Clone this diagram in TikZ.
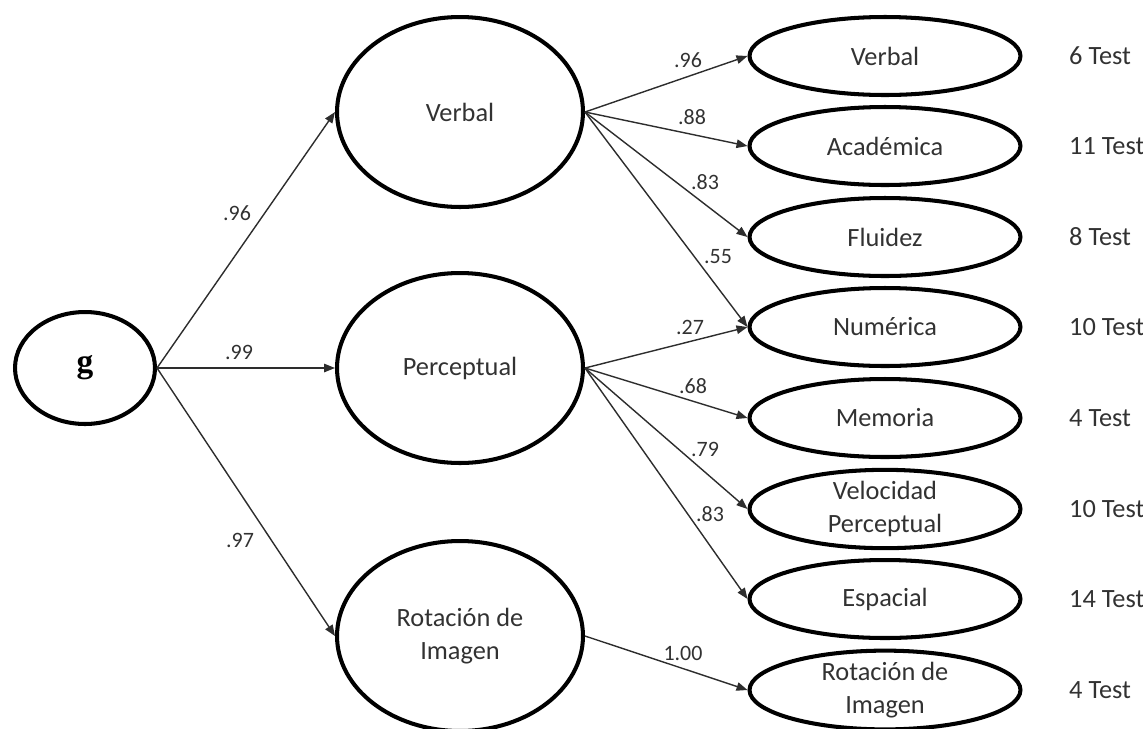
\documentclass[tikz,border=0pt]{standalone}
\usepackage{fontspec}
\setmainfont{Carlito}
\newfontfamily\gfont{Liberation Serif}
\usetikzlibrary{arrows.meta,shapes.geometric}
\definecolor{textgray}{RGB}{50,50,50}
\definecolor{linegray}{RGB}{45,45,45}
\tikzset{
  load/.style={-{Triangle[length=2.2mm,width=1.7mm]}, line width=0.8pt, draw=linegray},
  factor/.style={ellipse, draw=black, line width=2.3pt, inner sep=0pt, align=center, text=textgray,
    font=\fontsize{15}{18.7}\selectfont},
  gfactor/.style={factor, minimum width=2.8cm, minimum height=2.24cm, text=black,
    font=\gfont\bfseries\fontsize{19}{20}\selectfont},
  bigfactor/.style={factor, minimum width=4.92cm, minimum height=3.8cm},
  smallfactor/.style={factor, minimum width=5.42cm, minimum height=1.56cm},
  coef/.style={font=\fontsize{12.5}{14}\selectfont, text=textgray},
  ntest/.style={anchor=west, font=\fontsize{15}{18.7}\selectfont, text=textgray}
}

\begin{document}
\begin{tikzpicture}[x=0.02cm, y=-0.02cm]
  \useasboundingbox (0,0) rectangle (1143,728);

  % general factor
  \node[gfactor] (g) at (85,368) {g};

  % second-order factors
  \node[bigfactor] (fverb) at (460,112) {Verbal};
  \node[bigfactor] (fperc) at (460,368) {Perceptual};
  \node[bigfactor] (frot) at (460,636) {Rotación de\\Imagen};

  % first-order factors
  \node[smallfactor] (verb) at (885,56) {Verbal};
  \node[smallfactor] (acad) at (885,146) {Académica};
  \node[smallfactor] (fluid) at (885,237) {Fluidez};
  \node[smallfactor] (num) at (885,327) {Numérica};
  \node[smallfactor] (mem) at (885,418) {Memoria};
  \node[smallfactor] (vel) at (885,509) {Velocidad\\Perceptual};
  \node[smallfactor] (esp) at (885,599) {Espacial};
  \node[smallfactor] (rot) at (885,690) {Rotación de\\Imagen};

  % number of tests
  \node[ntest] (tverb) at (1063,56) {6 Test};
  \node[ntest] (tacad) at (1063,146) {11 Test};
  \node[ntest] (tfluid) at (1063,237) {8 Test};
  \node[ntest] (tnum) at (1063,327) {10 Test};
  \node[ntest] (tmem) at (1063,418) {4 Test};
  \node[ntest] (tvel) at (1063,509) {10 Test};
  \node[ntest] (tesp) at (1063,599) {14 Test};
  \node[ntest] (trot) at (1063,690) {4 Test};

  % loadings of g
  \draw[load] (g.east) -- (fverb.west);
  \draw[load] (g.east) -- (fperc.west);
  \draw[load] (g.east) -- (frot.west);
  \node[coef] (c1) at (237,213) {.96};
  \node[coef] (c2) at (239,352) {.99};
  \node[coef] (c3) at (240,540) {.97};

  % loadings of the second-order factors
  \draw[load] (fverb.east) -- (verb.west);
  \draw[load] (fverb.east) -- (acad.west);
  \draw[load] (fverb.east) -- (fluid.west);
  \draw[load] (fverb.east) -- (num.west);
  \draw[load] (fperc.east) -- (num.west);
  \draw[load] (fperc.east) -- (mem.west);
  \draw[load] (fperc.east) -- (vel.west);
  \draw[load] (fperc.east) -- (esp.west);
  \draw[load] (frot.east) -- (rot.west);
  \node[coef] (c4) at (688,60) {.96};
  \node[coef] (c5) at (692,117) {.88};
  \node[coef] (c6) at (705,182) {.83};
  \node[coef] (c7) at (718,257) {.55};
  \node[coef] (c8) at (690,327) {.27};
  \node[coef] (c9) at (693,386) {.68};
  \node[coef] (c10) at (705,449) {.79};
  \node[coef] (c11) at (710,514) {.83};
  \node[coef] (c12) at (683,653) {1.00};
\end{tikzpicture}
\end{document}
